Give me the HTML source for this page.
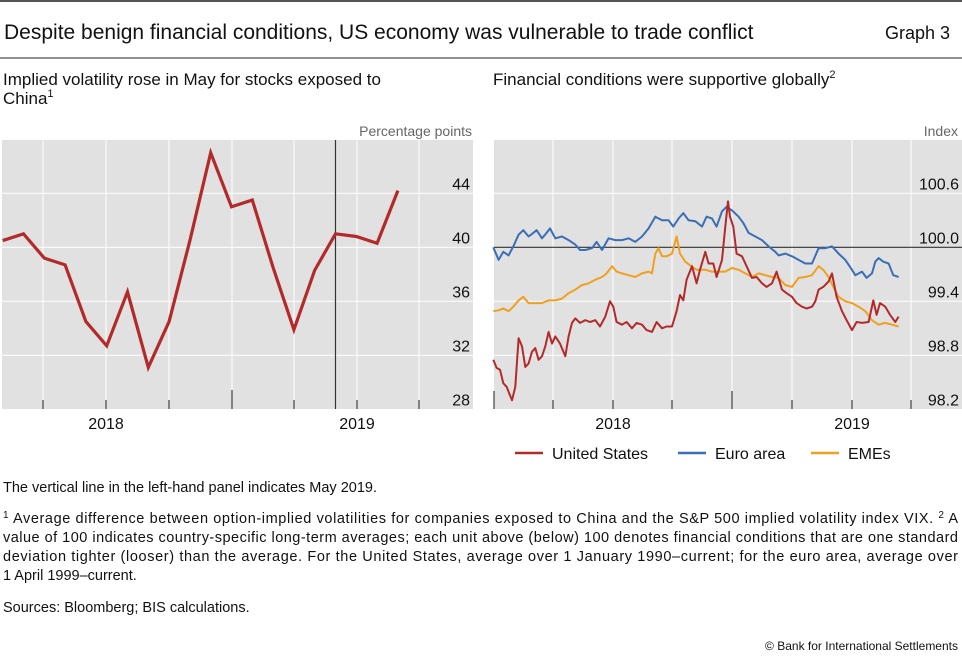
<!DOCTYPE html>
<html><head><meta charset="utf-8"><style>
body{margin:0;background:#fff;width:962px;height:661px;overflow:hidden;font-family:"Liberation Sans",sans-serif}
svg text{font-family:"Liberation Sans",sans-serif;fill:#111}
</style></head><body>
<svg id="s" width="962" height="661" viewBox="0 0 962 661" xmlns="http://www.w3.org/2000/svg">
<line x1="0" y1="1" x2="962" y2="1" stroke="#555" stroke-width="2"/>
<text x="4" y="39" font-size="21">Despite benign financial conditions, US economy was vulnerable to trade conflict</text>
<text x="950" y="39" font-size="18" text-anchor="end">Graph 3</text>
<line x1="0" y1="58" x2="962" y2="58" stroke="#222" stroke-width="1"/>
<text x="3" y="85" font-size="17">Implied volatility rose in May for stocks exposed to</text>
<text x="3" y="104" font-size="17">China<tspan font-size="11" dy="-7">1</tspan></text>
<text x="493" y="85" font-size="17">Financial conditions were supportive globally<tspan font-size="11" dy="-7">2</tspan></text>
<text x="472" y="136" font-size="14" text-anchor="end" style="fill:#666">Percentage points</text>
<text x="958" y="136" font-size="14" text-anchor="end" style="fill:#666">Index</text>
<rect x="2" y="140" width="471" height="269" fill="#e1e1e1"/>
<rect x="494" y="140" width="468" height="269" fill="#e1e1e1"/>
<g id="L"></g><g id="R"></g>
<g>
<line x1="515" y1="453" x2="543" y2="453" stroke="#b22a2a" stroke-width="2.5"/>
<text x="552" y="459" font-size="16">United States</text>
<line x1="678" y1="453" x2="706" y2="453" stroke="#3a6fb5" stroke-width="2.5"/>
<text x="715" y="459" font-size="16">Euro area</text>
<line x1="811" y1="453" x2="839" y2="453" stroke="#f0a020" stroke-width="2.5"/>
<text x="848" y="459" font-size="16">EMEs</text>
</g>
<text x="3" y="492" font-size="14.5">The vertical line in the left-hand panel indicates May 2019.</text>
<g font-size="14.5">
<text x="3" y="523" textLength="955" lengthAdjust="spacing"><tspan font-size="10" dy="-5">1</tspan><tspan dy="5">  Average difference between option-implied volatilities for companies exposed to China and the S&amp;P 500 implied volatility index VIX.   </tspan><tspan font-size="10" dy="-5">2</tspan><tspan dy="5">  A</tspan></text>
<text x="3" y="542" textLength="955" lengthAdjust="spacing">value of 100 indicates country-specific long-term averages; each unit above (below) 100 denotes financial conditions that are one standard</text>
<text x="3" y="561" textLength="955" lengthAdjust="spacing">deviation tighter (looser) than the average. For the United States, average over 1 January 1990–current; for the euro area, average over</text>
<text x="3" y="580">1 April 1999–current.</text>
<text x="3" y="612">Sources: Bloomberg; BIS calculations.</text>
</g>
<text x="958" y="650" font-size="12" text-anchor="end">© Bank for International Settlements</text>
</svg>
<script>
// Left panel data (monthly)
const leftMonths=[0,1,2,3,4,5,6,7,8,9,10,11,12,13,14,15,16,17,18,19];
const leftValues=[40.5,41.0,39.2,38.7,34.5,32.7,36.7,31.1,34.5,40.5,47.0,43.0,43.5,38.5,33.9,38.3,41.0,40.8,40.3,44.2];
const leftTicks=[28,32,36,40,44];
const leftYears=["2018","2019"];
// Right panel data (day offsets)
const usDays=[0,5,10,15,20,28,33,38,43,48,53,58,63,68,73,78,83,88,93,100,108,113,118,123,130,138,145,153,160,168,175,180,185,193,200,208,215,223,230,238,245,253,260,268,275,280,285,290,298,305,310,318,323,330,335,343,348,352,355,360,365,373,380,388,395,403,410,418,425,433,440,448,455,463,470,478,483,488,495,503,508,515,523,530,538,545,553,563,570,575,580,588,595,603,608];
const usValues=[98.75,98.66,98.64,98.49,98.45,98.30,98.45,98.99,98.90,98.67,98.71,98.84,98.88,98.75,98.79,98.90,99.06,98.93,99.01,98.93,98.79,99.01,99.16,99.21,99.16,99.19,99.17,99.19,99.12,99.23,99.40,99.34,99.17,99.14,99.17,99.10,99.16,99.14,99.08,99.06,99.17,99.10,99.12,99.12,99.29,99.47,99.41,99.64,99.79,99.60,99.75,99.95,99.82,99.82,99.67,99.86,100.23,100.51,100.34,100.23,99.93,99.90,99.79,99.66,99.67,99.60,99.56,99.60,99.73,99.53,99.49,99.45,99.38,99.34,99.32,99.34,99.40,99.53,99.56,99.62,99.71,99.45,99.29,99.19,99.08,99.17,99.16,99.17,99.41,99.25,99.38,99.34,99.25,99.17,99.23];
const euDays=[0,8,15,23,30,38,45,53,60,65,73,80,85,93,103,113,123,130,138,148,155,163,173,183,193,203,213,223,233,243,253,263,270,278,285,293,303,313,320,328,335,343,350,358,368,375,383,393,403,413,423,428,438,448,458,468,478,488,498,508,518,528,538,543,553,560,568,573,578,585,593,600,608];
const euValues=[100.00,99.86,99.95,99.91,100.01,100.14,100.19,100.12,100.16,100.19,100.10,100.16,100.21,100.10,100.12,100.08,100.03,99.97,99.97,99.99,100.06,99.97,100.10,100.08,100.08,100.10,100.06,100.12,100.21,100.34,100.30,100.30,100.23,100.32,100.38,100.30,100.29,100.23,100.34,100.32,100.23,100.40,100.45,100.41,100.34,100.27,100.16,100.12,100.08,100.01,99.95,99.91,99.93,99.90,99.86,99.82,99.82,99.99,99.99,100.01,99.93,99.86,99.75,99.69,99.73,99.66,99.71,99.84,99.88,99.84,99.82,99.69,99.67];
const emDays=[0,8,15,23,30,38,45,53,63,73,83,93,103,113,123,133,143,153,163,170,178,185,193,203,213,223,233,238,243,248,253,260,268,275,280,288,295,305,318,328,338,348,358,368,378,388,398,408,418,428,438,448,458,468,478,488,495,503,510,518,528,538,548,558,568,578,588,598,608];
const emValues=[99.29,99.30,99.32,99.29,99.34,99.41,99.45,99.38,99.38,99.38,99.41,99.41,99.43,99.49,99.53,99.58,99.60,99.64,99.67,99.71,99.79,99.73,99.71,99.69,99.67,99.71,99.73,99.71,99.93,99.99,99.90,99.90,99.93,100.12,99.93,99.84,99.80,99.75,99.75,99.73,99.73,99.73,99.77,99.75,99.71,99.67,99.71,99.69,99.67,99.66,99.58,99.56,99.66,99.67,99.69,99.79,99.75,99.67,99.56,99.45,99.40,99.38,99.34,99.29,99.19,99.14,99.16,99.14,99.12];
const rightTicks=["98.2","98.8","99.4","100.0","100.6"];
const rightYears=["2018","2019"];

const NS="http://www.w3.org/2000/svg";
function mk(parent,tag,attrs){const e=document.createElementNS(NS,tag);for(const k in attrs)e.setAttribute(k,attrs[k]);parent.appendChild(e);return e;}
const L=document.getElementById('L'),R=document.getElementById('R');
const lx=i=>2.7+i*20.8, ly=v=>409.3-(v-28)*13.5;
[43,106,169,232,294,357,419].forEach((x,i)=>{const g=mk(L,'line',{x1:x,x2:x,y1:140,y2:409,stroke:'#fff','stroke-width':1});


const t=mk(L,'line',{x1:x,x2:x,y1:i==3?390:400,y2:409,stroke:'#444','stroke-width':1.2});

});
leftTicks.forEach(v=>{if(v>28){const g=mk(L,'line',{x1:2,x2:473,y1:ly(v),y2:ly(v),stroke:'#fff','stroke-width':1});

}
const t=mk(L,'text',{x:470,y:ly(v)-4,'font-size':16,'text-anchor':'end'});t.textContent=v;

});
leftYears.forEach((y,i)=>{const t=mk(L,'text',{x:[106,357][i],y:429,'font-size':16,'text-anchor':'middle'});t.textContent=y;

});
const vl=mk(L,'line',{x1:lx(16),x2:lx(16),y1:140,y2:409,stroke:'#333','stroke-width':1.2});


const lp=mk(L,'polyline',{points:leftMonths.map((m,i)=>lx(m)+','+ly(leftValues[i])).join(' '),fill:'none',stroke:'#b22a2a','stroke-width':3.2,'stroke-linejoin':'miter'});


const rx=d=>493.3+d*2/3, ry=v=>247.3+(100-v)*90;
[494,553,613,672,732,792,852,911].forEach((x,i)=>{if(i>0){const g=mk(R,'line',{x1:x,x2:x,y1:140,y2:409,stroke:'#fff','stroke-width':1});

}
const t=mk(R,'line',{x1:x,x2:x,y1:(i==0||i==4)?391:400,y2:409,stroke:'#444','stroke-width':1.2});

});
rightTicks.forEach(s=>{const v=parseFloat(s);if(v>98.2&&v!=100){const g=mk(R,'line',{x1:494,x2:962,y1:ry(v),y2:ry(v),stroke:'#fff','stroke-width':1});

}
const t=mk(R,'text',{x:959,y:ry(v)-4,'font-size':16,'text-anchor':'end'});t.textContent=s;

});
const bl=mk(R,'line',{x1:494,x2:962,y1:ry(100),y2:ry(100),stroke:'#333','stroke-width':1.2});


rightYears.forEach((y,i)=>{const t=mk(R,'text',{x:[613,852][i],y:429,'font-size':16,'text-anchor':'middle'});t.textContent=y;

});
function series(days,vals,color,name){const p=mk(R,'polyline',{points:days.map((d,i)=>rx(d).toFixed(1)+','+ry(vals[i]).toFixed(1)).join(' '),fill:'none',stroke:color,'stroke-width':2,'stroke-linejoin':'round'});

}
series(emDays,emValues,'#f0a020','emes-line');
series(euDays,euValues,'#3a6fb5','euro-area-line');
series(usDays,usValues,'#b22a2a','united-states-line');
</script>
</body></html>
